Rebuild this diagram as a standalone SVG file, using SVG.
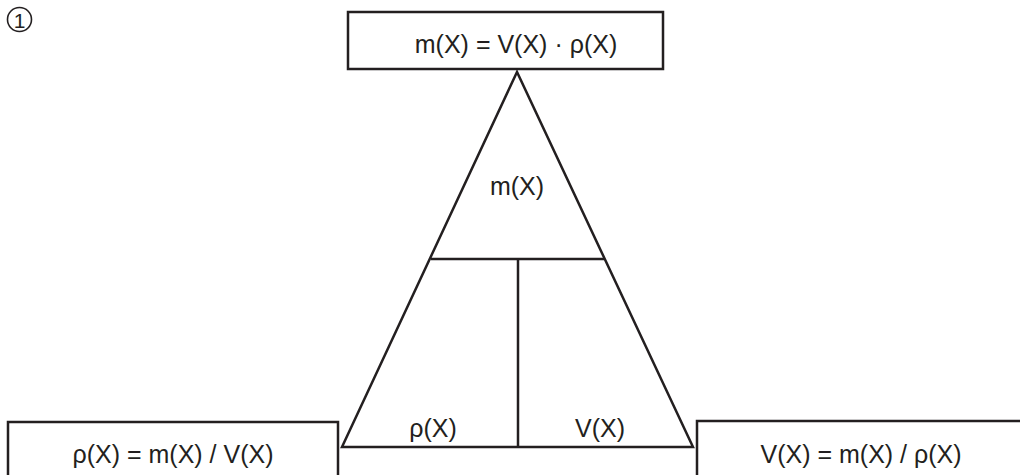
<svg xmlns="http://www.w3.org/2000/svg" width="1020" height="475" viewBox="0 0 1020 475">
<style>
.box{fill:#fff;stroke:#231f20;stroke-width:2.5}
.ln{fill:none;stroke:#231f20;stroke-width:2.5;stroke-linejoin:miter}
.t{font-family:"Liberation Sans",Arial,sans-serif;font-size:25px;fill:#231f20;text-anchor:middle}
</style>
<rect width="1020" height="475" fill="#fff"/>
<g id="label-1"><circle cx="19.5" cy="19.5" r="12" fill="none" stroke="#231f20" stroke-width="1.6"/><text x="19.5" y="27.5" font-family="Liberation Sans, Arial, sans-serif" font-size="21" fill="#231f20" text-anchor="middle">1</text></g>
<g id="top-formula"><rect class="box" x="348" y="12" width="315" height="57"/><text class="t" x="516" y="53">m(X) = V(X) · ρ(X)</text></g>
<g id="triangle">
<polygon class="ln" points="517,72 342,447 693,447"/>
<line class="ln" x1="431" y1="259" x2="604" y2="259"/>
<line class="ln" x1="518" y1="259" x2="518" y2="447"/>
<text class="t" x="517" y="195">m(X)</text>
<text class="t" x="433" y="437">ρ(X)</text>
<text class="t" x="600" y="437">V(X)</text>
</g>
<g id="left-formula"><rect class="box" x="8" y="422" width="330" height="70"/><text class="t" x="173" y="463">ρ(X) = m(X) / V(X)</text></g>
<g id="right-formula"><rect class="box" x="697" y="421" width="340" height="70"/><text class="t" x="861" y="463">V(X) = m(X) / ρ(X)</text></g>
</svg>
